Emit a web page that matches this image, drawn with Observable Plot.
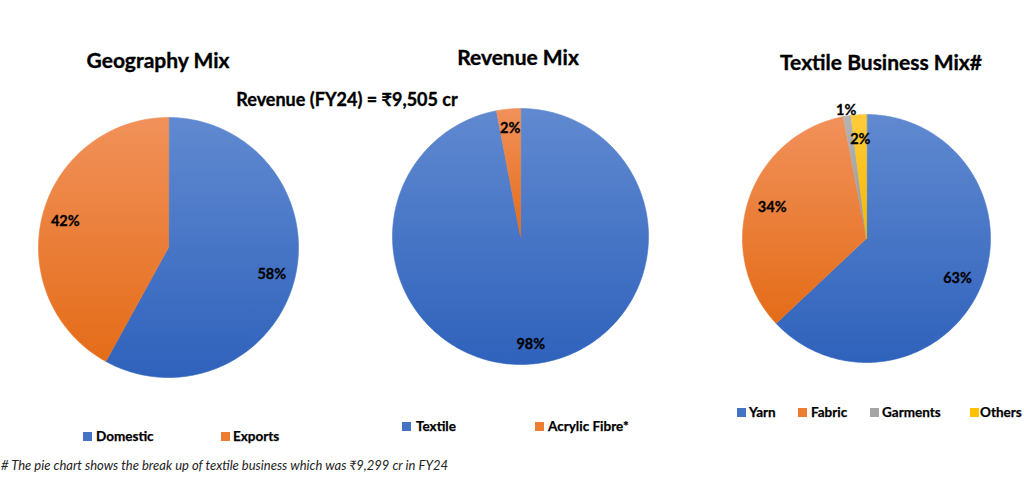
<!DOCTYPE html>
<html>
<head>
<meta charset="utf-8">
<script src="https://cdn.jsdelivr.net/npm/d3@7"></script>
<script src="https://cdn.jsdelivr.net/npm/@observablehq/plot@0.6"></script>
<style>
  html, body { margin: 0; padding: 0; background: #fff; }
  #root { position: relative; width: 1024px; height: 481px; overflow: hidden; background: #fff; font-family: Lato, "Open Sans", sans-serif; color: #000; }
  .abs { position: absolute; white-space: nowrap; line-height: 1.2; }
  .title { font-weight: 700; -webkit-text-stroke: 0.35px #000; }
  .leg { font-weight: 700; font-size: 13.5px; -webkit-text-stroke: 0.25px #000; }
  .sw { position: absolute; width: 9px; height: 9px; }
</style>
</head>
<body>
<svg width="0" height="0" style="position:absolute">
  <defs>
    <linearGradient id="g-blue" x1="0" y1="0" x2="0" y2="1">
      <stop offset="0" stop-color="#6089D0"/>
      <stop offset="1" stop-color="#2F62BC"/>
    </linearGradient>
    <linearGradient id="g-orange" x1="0" y1="0" x2="0" y2="1">
      <stop offset="0" stop-color="#F1915A"/>
      <stop offset="1" stop-color="#E46C18"/>
    </linearGradient>
    <linearGradient id="g-gray" x1="0" y1="0" x2="0" y2="1">
      <stop offset="0" stop-color="#B4B4B4"/>
      <stop offset="1" stop-color="#999999"/>
    </linearGradient>
    <linearGradient id="g-yellow" x1="0" y1="0" x2="0" y2="1">
      <stop offset="0" stop-color="#FFCB3C"/>
      <stop offset="1" stop-color="#F6B800"/>
    </linearGradient>
  </defs>
</svg>
<div id="root"></div>
<script>
// ---------- data ----------
const geoTitle = "Geography Mix";
const geoCategories = ["Domestic", "Exports"];
const geoValues = [58, 42];
const geoLabels = ["58%", "42%"];

const revTitle = "Revenue Mix";
const revCategories = ["Textile", "Acrylic Fibre*"];
const revValues = [97, 3];
const revLabels = ["98%", "2%"];

const texTitle = "Textile Business Mix#";
const texCategories = ["Yarn", "Fabric", "Garments", "Others"];
const texValues = [63, 34, 1, 2];
const texLabels = ["63%", "34%", "1%", "2%"];

const revenueNote = "Revenue (FY24) = \u20B99,505 cr";
const footnote = "# The pie chart shows the break up of textile business which was \u20B99,299 cr in FY24";

// ---------- style / layout ----------
const gradByCat = {
  Domestic: "blue", Exports: "orange",
  Textile: "blue", "Acrylic Fibre*": "orange",
  Yarn: "blue", Fabric: "orange", Garments: "gray", Others: "yellow"
};
const solid = { blue: "#4472C4", orange: "#ED7D31", gray: "#A5A5A5", yellow: "#FFC000" };

const pies = [
  { title: geoTitle, cats: geoCategories, vals: geoValues, labels: geoLabels,
    cx: 168, cy: 247, R: 130, labelR: 0.82,
    titleX: 158, titleBase: 68,
    legend: { y: 436, items: [[83, 96], [221, 233]] } },
  { title: revTitle, cats: revCategories, vals: revValues, labels: revLabels,
    cx: 520, cy: 236, R: 128, labelR: 0.85,
    titleX: 518, titleBase: 65,
    legend: { y: 426, items: [[402, 416], [535, 548]] } },
  { title: texTitle, cats: texCategories, vals: texValues, labels: texLabels,
    cx: 866, cy: 238, R: 124, labelR: 0.80,
    titleX: 881, titleBase: 70,
    legend: { y: 412, items: [[737, 749], [798, 811], [870, 882], [970, 980]] } }
];

const root = document.getElementById("root");
const ASC = 0.987; // Lato baseline offset within a 1.2 line box

function addText(txt, x, base, size, cls, anchor, extra) {
  const d = document.createElement("div");
  d.className = "abs " + (cls || "");
  d.textContent = txt;
  d.style.fontSize = size + "px";
  d.style.top = (base - ASC * size) + "px";
  d.style.left = x + "px";
  if (anchor === "middle") d.style.transform = "translateX(-50%)";
  if (extra) Object.assign(d.style, extra);
  root.appendChild(d);
  return d;
}

const S = 150; // half-size of each pie frame in px

for (const p of pies) {
  const total = d3.sum(p.vals);
  const slices = [];
  const labelPts = [];
  let acc = 0;
  p.vals.forEach((v, i) => {
    const a0 = acc / total * 2 * Math.PI;
    acc += v;
    const a1 = acc / total * 2 * Math.PI;
    const n = Math.max(2, Math.ceil((a1 - a0) / (Math.PI / 180)));
    const pts = [{ x: 0, y: 0 }];
    for (let k = 0; k <= n; k++) {
      const a = a0 + (a1 - a0) * k / n;
      pts.push({ x: Math.sin(a), y: Math.cos(a) });
    }
    slices.push({ cat: p.cats[i], pts });
    const am = (a0 + a1) / 2;
    const r = v / total < 0.015 ? 1.05 : p.labelR;
    labelPts.push({ x: r * Math.sin(am), y: r * Math.cos(am), label: p.labels[i] });
  });

  const dom = S / p.R;
  const marks = slices.map(s => Plot.line(s.pts, {
    x: "x", y: "y", curve: "linear-closed",
    fill: `url(#g-${gradByCat[s.cat]})`,
    stroke: `url(#g-${gradByCat[s.cat]})`, strokeWidth: 0.6
  }));
  marks.push(Plot.text(labelPts, {
    x: "x", y: "y", text: "label",
    fontSize: 14.5, fontWeight: 700, fill: "#000",
    stroke: "#000", strokeWidth: 0.3,
    fontFamily: "Lato, 'Open Sans', sans-serif"
  }));

  const svg = Plot.plot({
    width: 2 * S, height: 2 * S,
    margin: 0,
    x: { domain: [-dom, dom], axis: null },
    y: { domain: [-dom, dom], axis: null },
    style: { background: "transparent", overflow: "visible" },
    marks
  });
  const wrap = document.createElement("div");
  wrap.style.position = "absolute";
  wrap.style.left = (p.cx - S) + "px";
  wrap.style.top = (p.cy - S) + "px";
  wrap.appendChild(svg);
  root.appendChild(wrap);

  addText(p.title, p.titleX, p.titleBase, 21, "title", "middle");

  p.cats.forEach((c, i) => {
    const [sx, tx] = p.legend.items[i];
    const sw = document.createElement("div");
    sw.className = "sw";
    sw.style.left = sx + "px";
    sw.style.top = (p.legend.y - 4.5) + "px";
    sw.style.background = solid[gradByCat[c]];
    root.appendChild(sw);
    addText(c, tx, p.legend.y + 5, 13.5, "leg", "left");
  });
}

addText(revenueNote, 347, 107, 18, "title", "middle");
addText(footnote, 1, 471, 13, "", "left", { fontStyle: "italic", color: "#222" });
</script>
</body>
</html>
